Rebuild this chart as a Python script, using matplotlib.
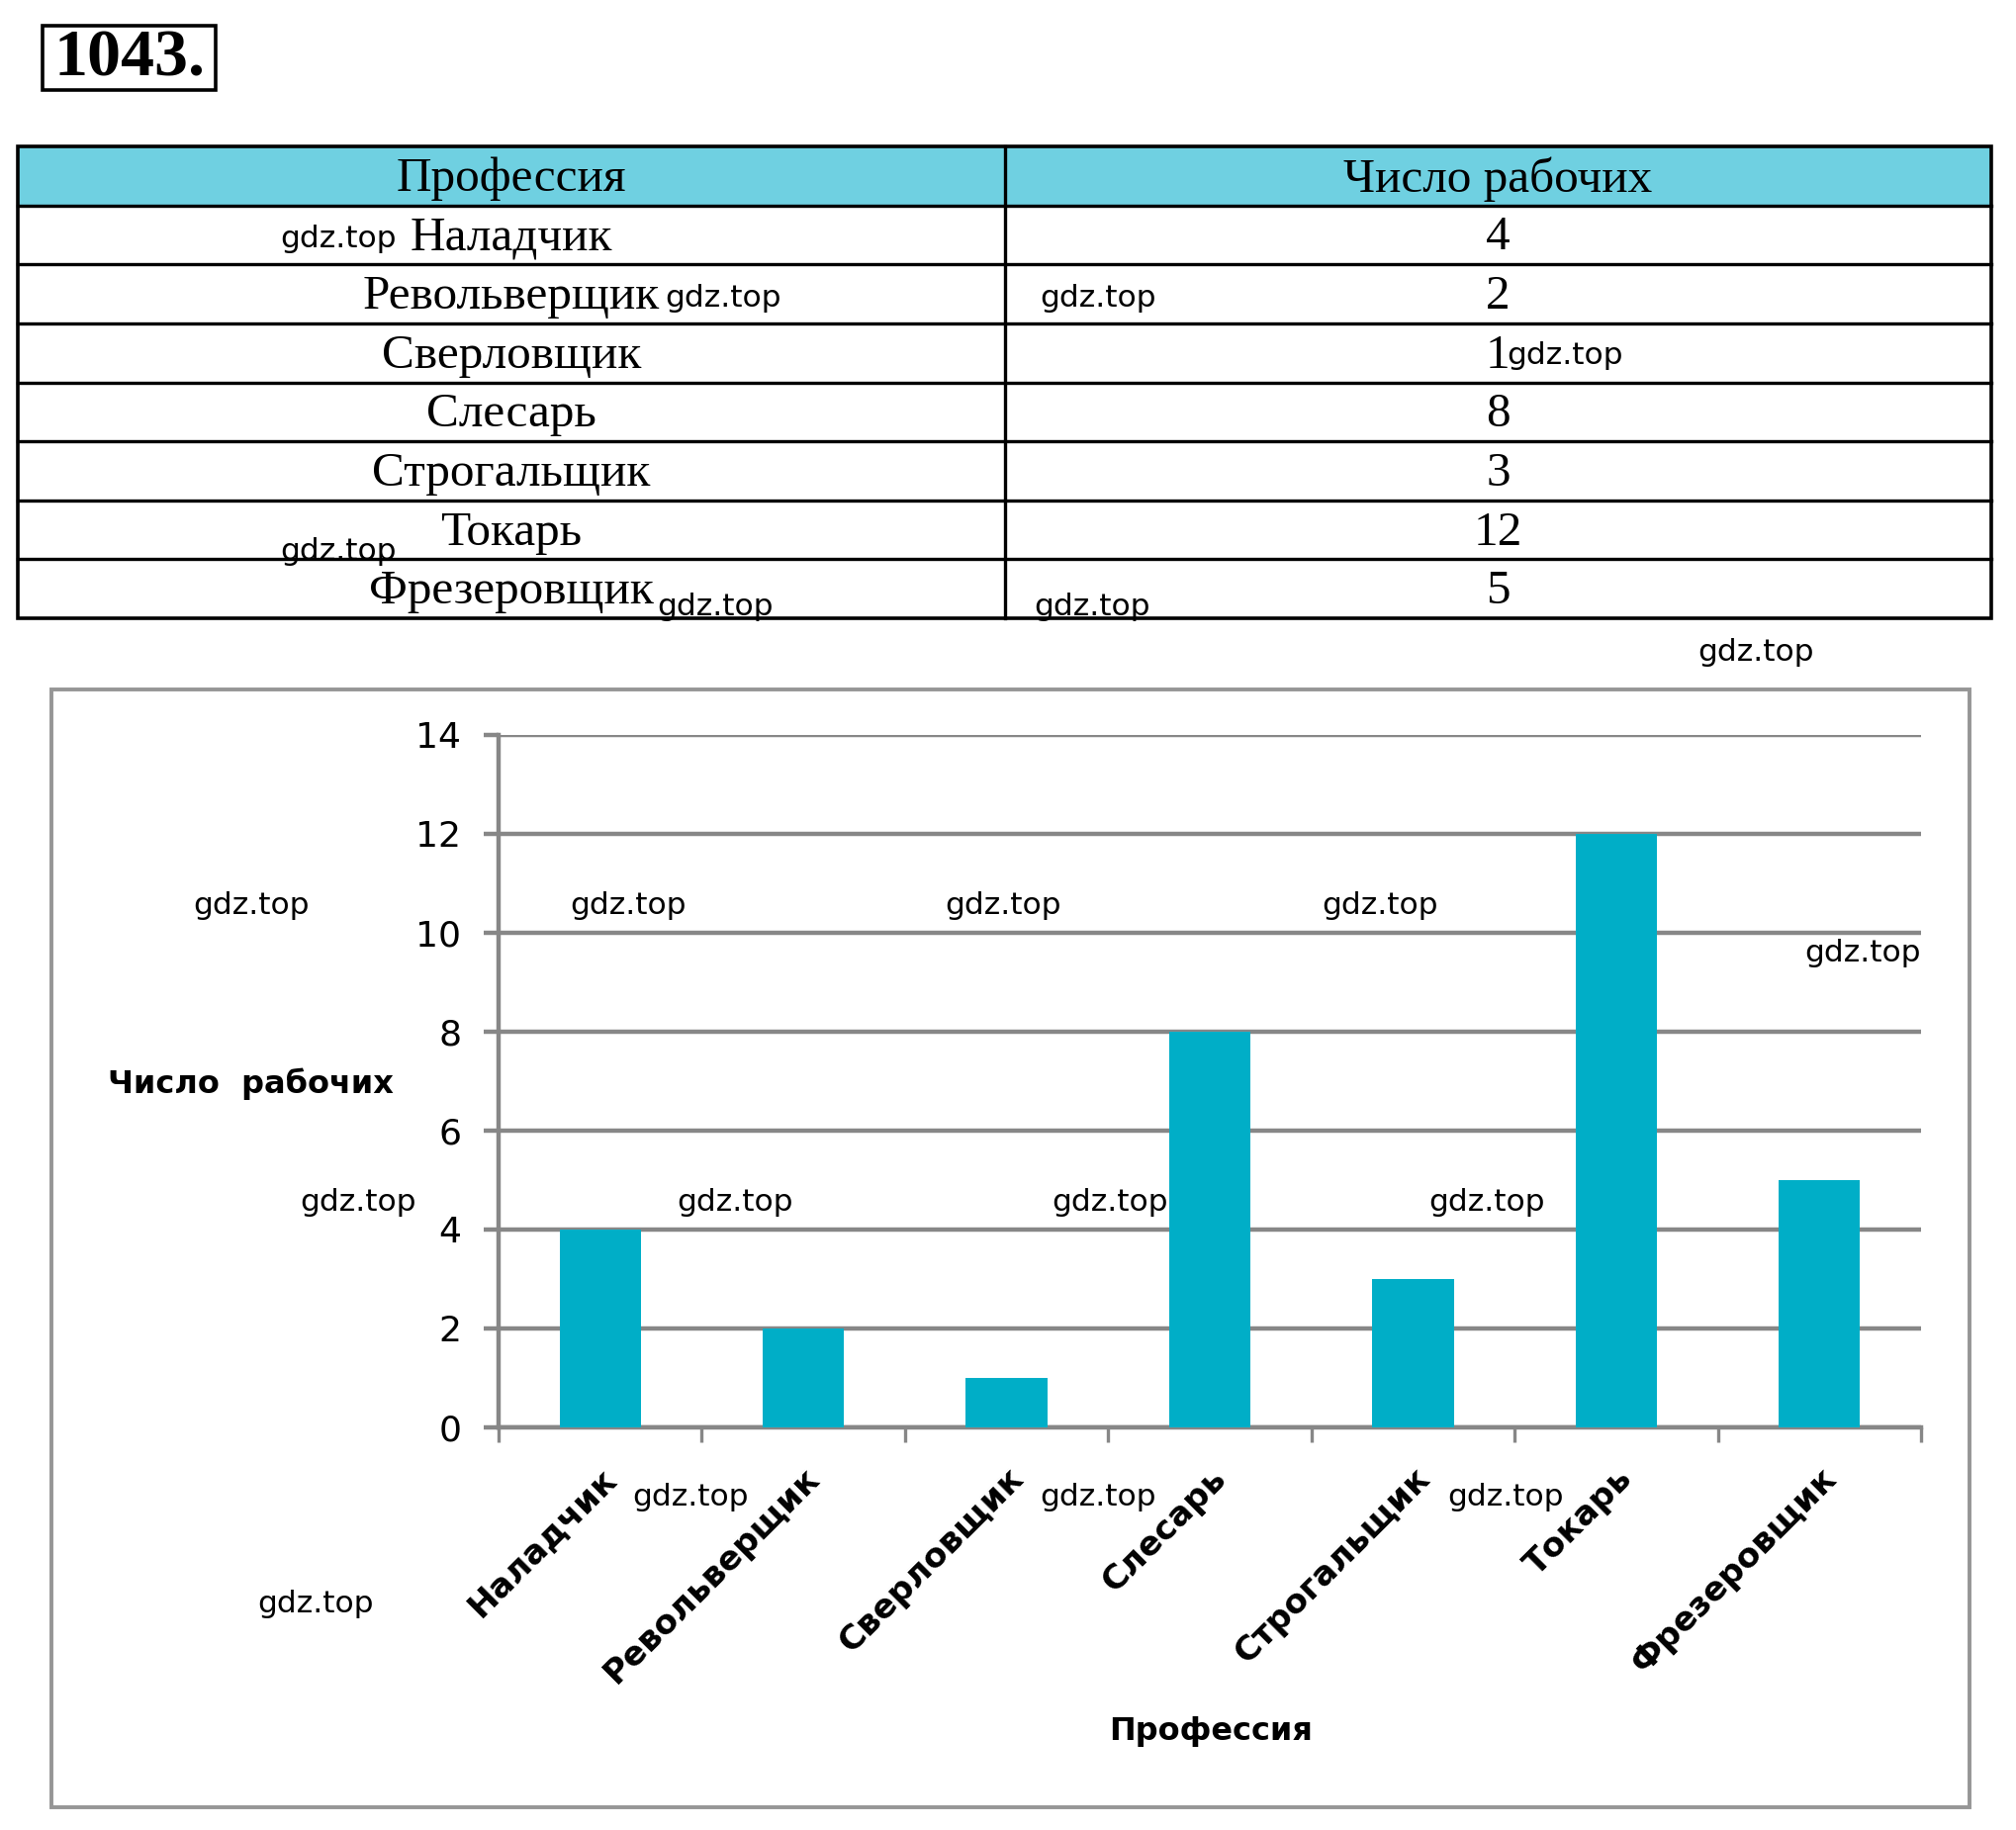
import matplotlib
matplotlib.use("Agg")
import matplotlib.pyplot as plt
from matplotlib.patches import Rectangle
import numpy as np

# ---- data ----
professions = ["Наладчик", "Револьверщик", "Сверловщик", "Слесарь",
               "Строгальщик", "Токарь", "Фрезеровщик"]
workers = [4, 2, 1, 8, 3, 12, 5]
table_header = ["Профессия", "Число рабочих"]
y_ticks = [0, 2, 4, 6, 8, 10, 12, 14]
problem_no = "1043."
y_title = "Число  рабочих"
x_title = "Профессия"
watermark = "gdz.top"

W, H = 2038, 1850
DPI = 100
fig = plt.figure(figsize=(W / DPI, H / DPI), dpi=DPI)
fig.patch.set_facecolor("white")

GRID = "#878787"
BAR = "#00AEC7"
HEAD = "#6FD0E1"

# ---- chart axes ----
x0, x1, y0, y1 = 504, 1942, 1443, 743
ax = fig.add_axes([x0 / W, 1 - y0 / H, (x1 - x0) / W, (y0 - y1) / H])
x = np.arange(len(professions))
ax.bar(x, workers, width=0.4, color=BAR, zorder=3)
ax.set_xlim(-0.5, len(professions) - 0.5)
ax.set_ylim(0, 14)
ax.set_yticks(y_ticks)
ax.set_yticklabels([str(v) for v in y_ticks], fontsize=26, family="DejaVu Sans")
ax.tick_params(axis="y", direction="out", length=11, width=3.2, color=GRID, pad=16)
ax.set_xticks(x)
ax.set_xticklabels(professions, rotation=45, ha="right", va="top",
                   rotation_mode="anchor", fontsize=24.5, fontweight="bold",
                   family="DejaVu Sans")
ax.tick_params(axis="x", which="major", length=0, pad=25)
ax.set_xticks(np.arange(-0.5, len(professions)), minor=True)
ax.tick_params(axis="x", which="minor", direction="out", length=11, width=2.4, color=GRID)
ax.yaxis.grid(True, color=GRID, linewidth=3.2, zorder=0)
ax.set_axisbelow(True)
for s in ["top", "right"]:
    ax.spines[s].set_visible(False)
for s in ["left", "bottom"]:
    ax.spines[s].set_color(GRID)
    ax.spines[s].set_linewidth(3.2)
ax.set_ylabel(y_title, rotation=0, fontsize=23, fontweight="bold",
              family="DejaVu Sans", ha="center", va="center")
ax.yaxis.set_label_coords((253 - x0) / (x1 - x0), (y0 - 1096) / (y0 - y1))
ax.set_xlabel(x_title, fontsize=23, fontweight="bold", family="DejaVu Sans",
              ha="center", va="center")
ax.xaxis.set_label_coords((1224 - x0) / (x1 - x0), (y0 - 1751) / (y0 - y1))

# ---- overlay for page elements (pixel coordinates) ----
ov = fig.add_axes([0, 0, 1, 1])
ov.set_xlim(0, W)
ov.set_ylim(H, 0)
ov.axis("off")
ov.patch.set_alpha(0)

# problem number box
ov.add_patch(Rectangle((43, 26), 175, 65, fill=False, edgecolor="black", lw=2.6))
ov.text(131, 60, problem_no, fontsize=49, fontweight="bold", family="Liberation Serif",
        ha="center", va="center")

# table
tx0, tx1, ty0, ty1, tmid = 18, 2013, 148, 625, 1016
nrows = len(professions) + 1
rh = (ty1 - ty0) / nrows
ov.add_patch(Rectangle((tx0, ty0), tx1 - tx0, rh, facecolor=HEAD, edgecolor="none"))
ov.add_patch(Rectangle((tx0, ty0), tx1 - tx0, ty1 - ty0, fill=False, edgecolor="black", lw=2.6))
for i in range(1, nrows):
    ov.plot([tx0, tx1], [ty0 + i * rh, ty0 + i * rh], color="black", lw=2.4)
ov.plot([tmid, tmid], [ty0, ty1], color="black", lw=2.4)
c1, c2 = (tx0 + tmid) / 2, (tmid + tx1) / 2
ov.text(c1, ty0 + rh / 2 + 3, table_header[0], fontsize=35.5, family="Liberation Serif",
        ha="center", va="center")
ov.text(c2, ty0 + rh / 2 + 3, table_header[1], fontsize=35.5, family="Liberation Serif",
        ha="center", va="center")
for i, (p, w) in enumerate(zip(professions, workers)):
    yc = ty0 + (i + 1.5) * rh + 3
    ov.text(c1, yc, p, fontsize=35.5, family="Liberation Serif", ha="center", va="center")
    ov.text(c2, yc, str(w), fontsize=35.5, family="Liberation Serif", ha="center", va="center")

# chart frame
ov.add_patch(Rectangle((52, 697), 1991 - 52, 1827 - 697, fill=False,
                       edgecolor="#969696", lw=2.8))

# watermarks
wm_pos = [(283, 242), (672, 302), (1051, 302), (1523, 359), (283, 558), (664, 614),
          (1045, 614), (1716, 659), (195, 915), (576, 915), (955, 915), (1336, 915),
          (1824, 963), (303, 1215), (684, 1215), (1063, 1215), (1444, 1215),
          (639, 1514), (1051, 1514), (1463, 1514), (260, 1622)]
for (wx, wy) in wm_pos:
    ov.text(wx, wy, watermark, fontsize=22.5, family="DejaVu Sans", ha="left",
            va="center", zorder=5)

fig.savefig("out.png", dpi=DPI)
